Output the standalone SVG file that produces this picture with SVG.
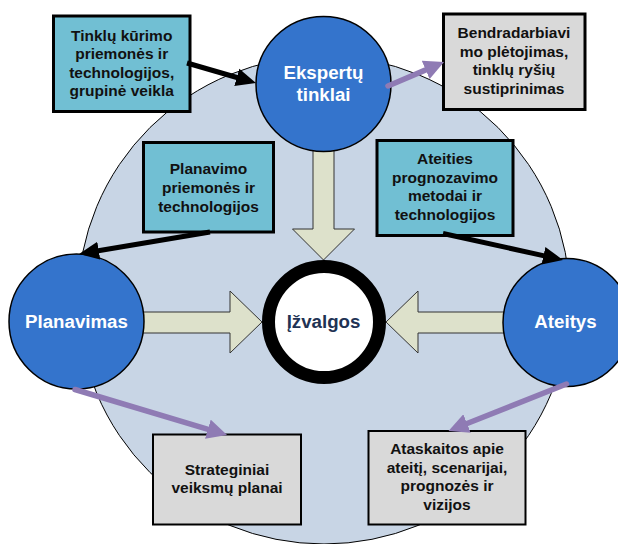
<svg xmlns="http://www.w3.org/2000/svg" width="618" height="544" viewBox="0 0 618 544">
<style>
  .bg { fill: #C8D5E5; stroke: #000; stroke-width: 1; }
  .flow { fill: #DDE1CB; stroke: #333; stroke-width: 1; }
  .circ { fill: #3474CC; stroke: #000; stroke-width: 1.5; }
  .ctext { font-family: "Liberation Sans", Arial, sans-serif; font-weight: bold; font-size: 18.7px; fill: #fff; text-anchor: middle; }
  .itext { font-family: "Liberation Sans", Arial, sans-serif; font-weight: bold; font-size: 18.7px; fill: #1F3354; text-anchor: middle; }
  .teal { fill: #71BFD3; stroke: #000; stroke-width: 3; }
  .grey { fill: #D9D9D9; stroke: #000; stroke-width: 3; }
  .grey2 { fill: #D9D9D9; stroke: #000; stroke-width: 2; }
  .btext { font-family: "Liberation Sans", Arial, sans-serif; font-weight: bold; font-size: 15.5px; fill: #111; text-anchor: middle; }
  .blk { stroke: #000; stroke-width: 5; fill: none; marker-end: url(#headBlack); }
  .pur { stroke: #8F7BB4; stroke-width: 5.5; fill: none; stroke-linecap: round; marker-end: url(#headPurple); }
</style>
<defs>
  <marker id="headBlack" markerUnits="userSpaceOnUse" viewBox="0 0 20 20" markerWidth="20" markerHeight="20" refX="2" refY="10" orient="auto">
    <path d="M0,1 L20,10 L0,19 Z" fill="#000"/>
  </marker>
  <marker id="headPurple" markerUnits="userSpaceOnUse" viewBox="0 0 20 20" markerWidth="20" markerHeight="20" refX="2" refY="10" orient="auto">
    <path d="M0,0 L20,10 L0,20 Z" fill="#8F7BB4"/>
  </marker>
</defs>

<ellipse id="background" class="bg" cx="324" cy="300" rx="246" ry="244"/>

<g id="flows">
  <path class="flow" d="M313,148 L334,148 L334,229 L354.5,229 L323.5,260 L292.5,229 L313,229 Z"/>
  <path class="flow" d="M140,312 L230,312 L230,291 L262,322 L230,353 L230,333 L140,333 Z"/>
  <path class="flow" d="M508,312 L418,312 L418,291 L386,322 L418,353 L418,333 L508,333 Z"/>
</g>

<g id="node-ekspertu">
  <circle class="circ" cx="323.5" cy="84" r="67.5"/>
  <text class="ctext" x="323.5" y="79">Ekspertų</text>
  <text class="ctext" x="323.5" y="101">tinklai</text>
</g>
<g id="node-planavimas">
  <circle class="circ" cx="76.5" cy="321.5" r="67.5"/>
  <text class="ctext" x="76.5" y="327.5">Planavimas</text>
</g>
<g id="node-ateitys">
  <circle class="circ" cx="567" cy="322.5" r="64"/>
  <text class="ctext" x="565.5" y="328">Ateitys</text>
</g>
<g id="node-izvalgos">
  <circle cx="324" cy="322" r="55.5" fill="#fff" stroke="#000" stroke-width="13"/>
  <text class="itext" x="323.5" y="328">Įžvalgos</text>
</g>

<g id="node-box1">
  <rect class="teal" x="53.5" y="16" width="136.5" height="95.5"/>
  <text class="btext" x="121.7"><tspan x="121.7" y="41">Tinklų kūrimo</tspan><tspan x="121.7" y="59.3">priemonės ir</tspan><tspan x="121.7" y="77.6">technologijos,</tspan><tspan x="121.7" y="95.9">grupinė veikla</tspan></text>
</g>
<g id="node-box2">
  <rect class="grey" x="443.5" y="14" width="141.5" height="95.5"/>
  <text class="btext" x="514"><tspan x="514" y="37.7">Bendradarbiavi</tspan><tspan x="514" y="56.5">mo plėtojimas,</tspan><tspan x="514" y="75.3">tinklų ryšių</tspan><tspan x="514" y="94">sustiprinimas</tspan></text>
</g>
<g id="node-box3">
  <rect class="teal" x="143.5" y="142.5" width="130" height="89.5"/>
  <text class="btext" x="208.5"><tspan x="208.5" y="174.3">Planavimo</tspan><tspan x="208.5" y="193">priemonės ir</tspan><tspan x="208.5" y="211.7">technologijos</tspan></text>
</g>
<g id="node-box4">
  <rect class="teal" x="377" y="140.5" width="136" height="95"/>
  <text class="btext" x="445"><tspan x="445" y="164">Ateities</tspan><tspan x="445" y="182.5">prognozavimo</tspan><tspan x="445" y="201">metodai ir</tspan><tspan x="445" y="219.5">technologijos</tspan></text>
</g>
<g id="node-box5">
  <rect class="grey2" x="153" y="434.5" width="148" height="90"/>
  <text class="btext" x="227"><tspan x="227" y="475">Strateginiai</tspan><tspan x="227" y="493.3">veiksmų planai</tspan></text>
</g>
<g id="node-box6">
  <rect class="grey2" x="368.5" y="431" width="157" height="93.5"/>
  <text class="btext" x="447"><tspan x="447" y="454">Ataskaitos apie</tspan><tspan x="447" y="472.5">ateitį, scenarijai,</tspan><tspan x="447" y="491">prognozės ir</tspan><tspan x="447" y="509.5">vizijos</tspan></text>
</g>

<g id="connectors">
  <line class="blk" x1="187" y1="63" x2="238.7" y2="78"/>
  <line class="blk" x1="210" y1="232" x2="96.8" y2="251"/>
  <line class="blk" x1="443" y1="233.5" x2="545.4" y2="256.1"/>
  <line class="pur" x1="388" y1="86" x2="427.5" y2="69.1"/>
  <line class="pur" x1="75" y1="389.5" x2="209.8" y2="429.8"/>
  <line class="pur" x1="566.5" y1="384" x2="465.2" y2="424.3"/>
</g>
</svg>
